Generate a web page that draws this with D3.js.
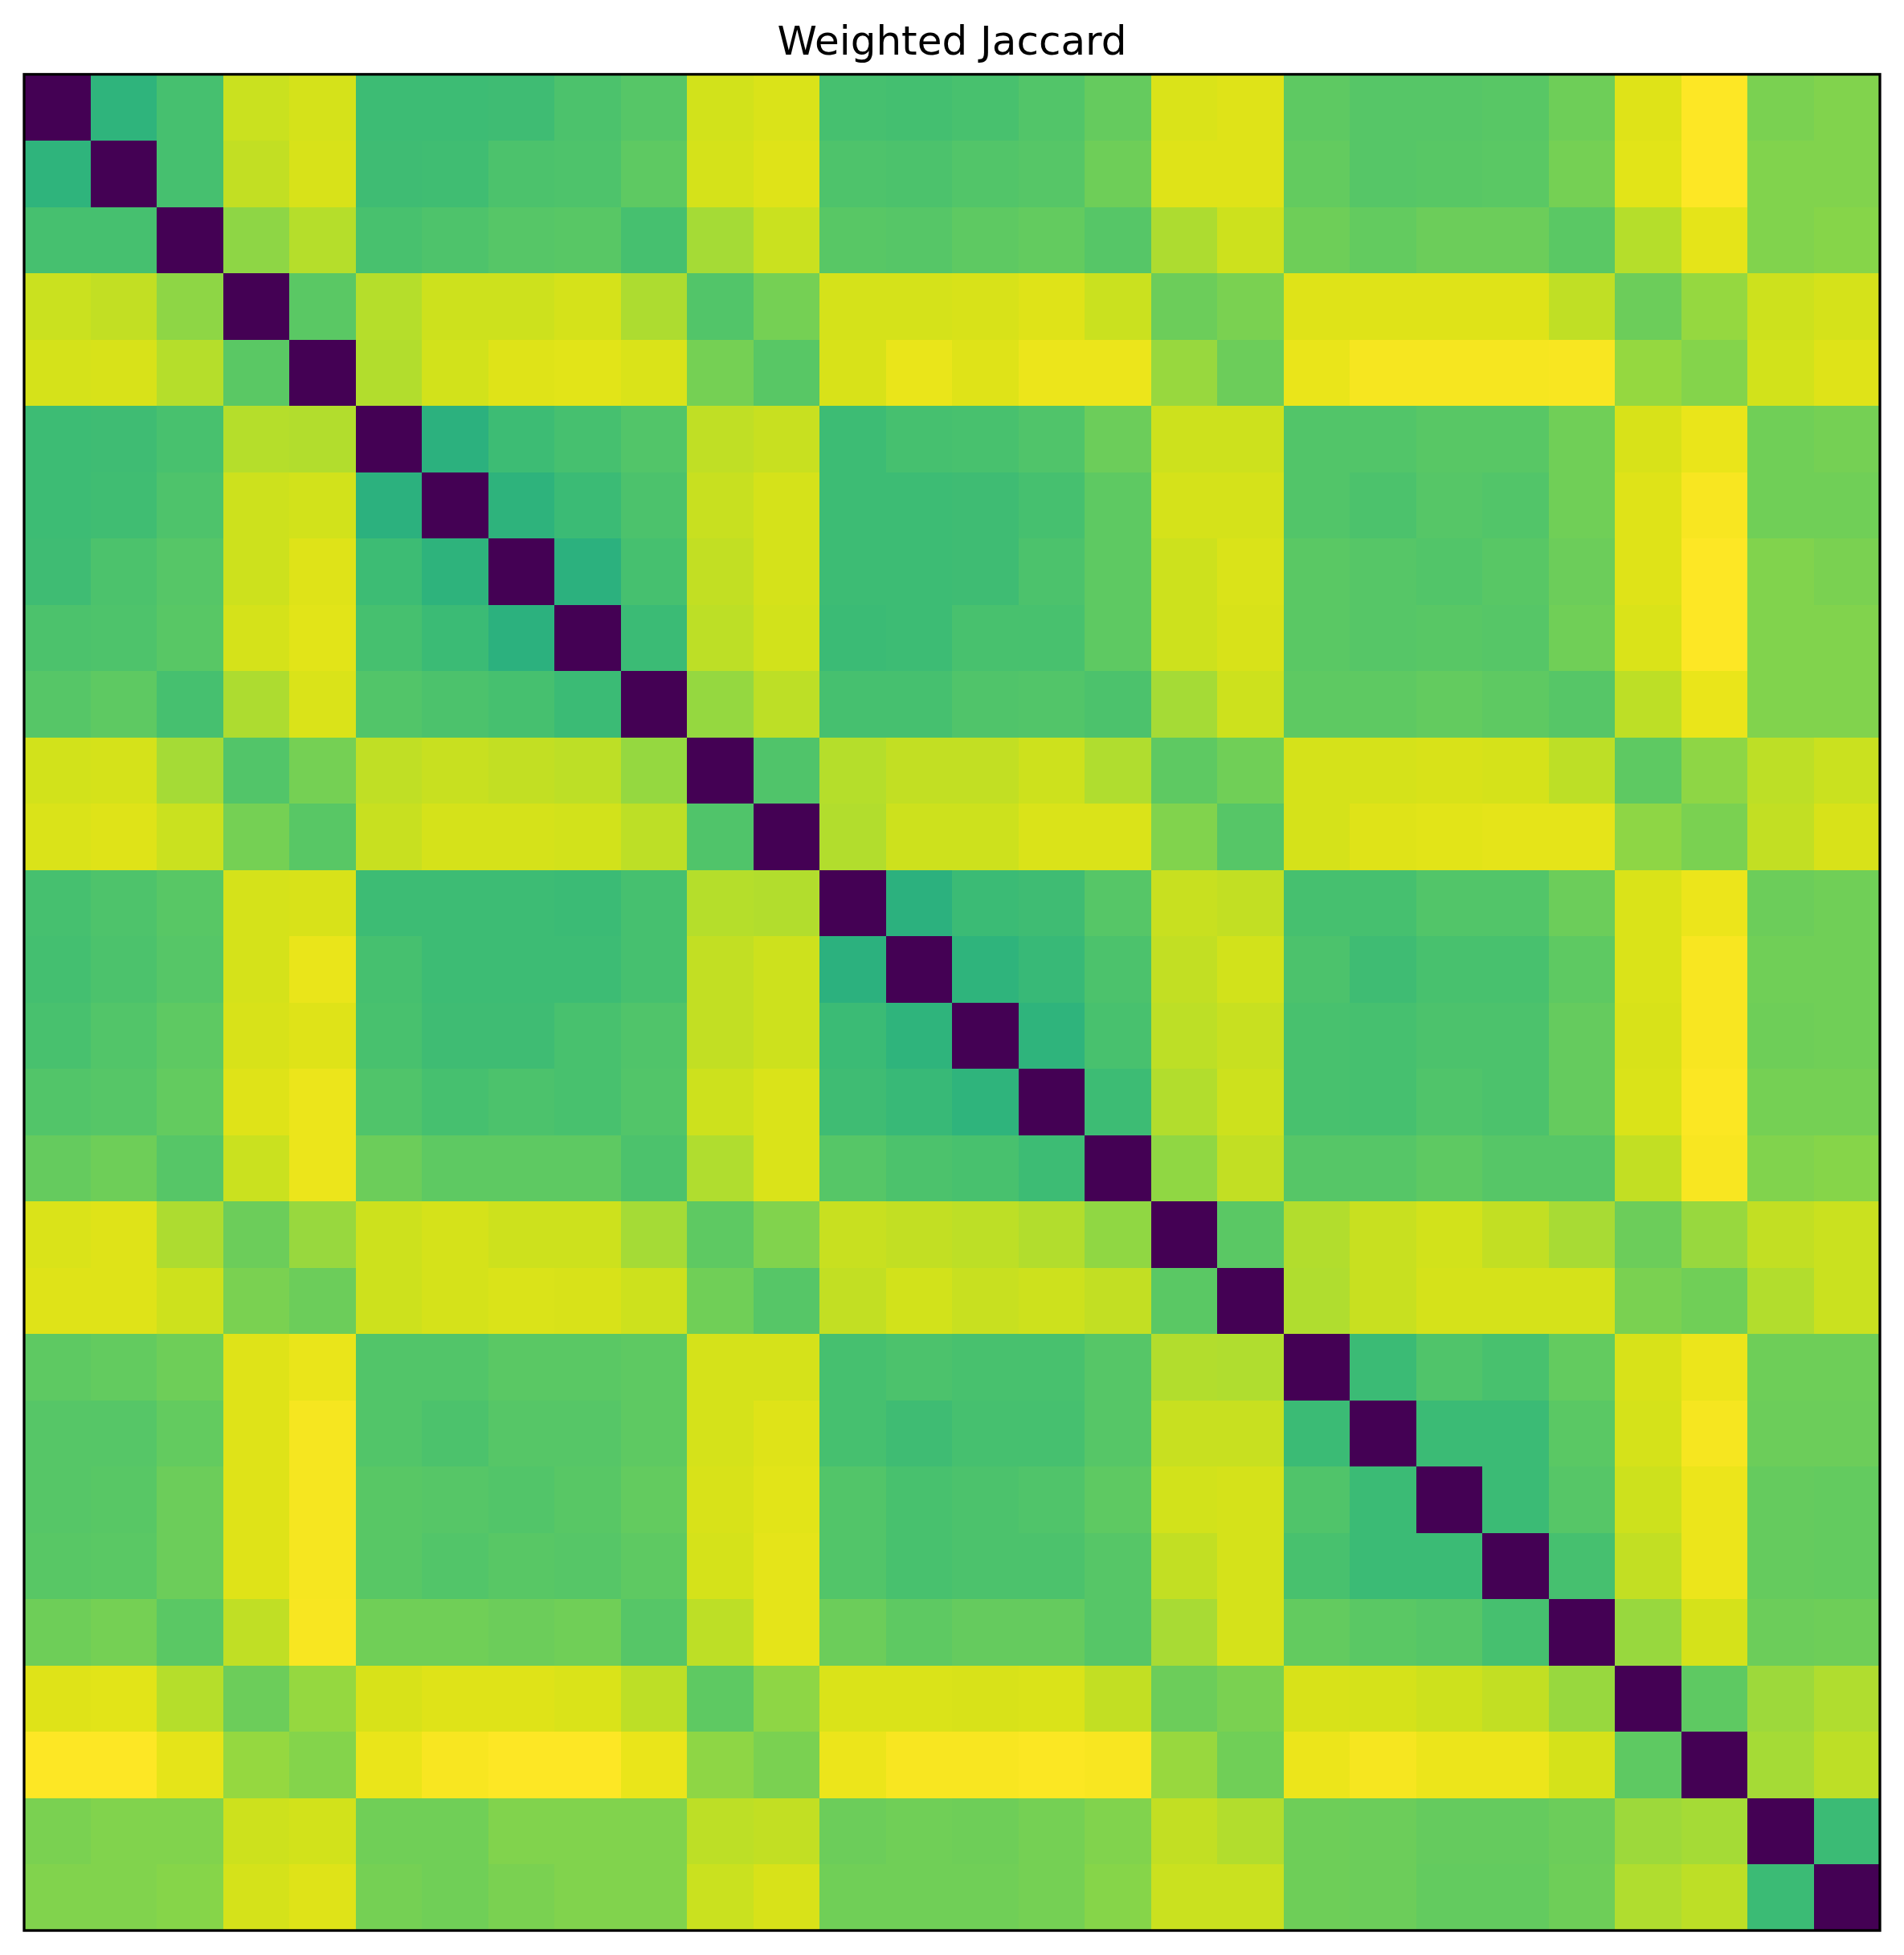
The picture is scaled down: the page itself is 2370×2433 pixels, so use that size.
<!DOCTYPE html>
<html>
<head>
<meta charset="utf-8">
<script src="https://cdn.jsdelivr.net/npm/d3@7"></script>
<style>
  html, body { margin: 0; padding: 0; background: #fff; }
  svg { display: block; }
</style>
</head>
<body>
<svg id="chart"></svg>
<script>
const title = 'Weighted Jaccard';

// 28 samples, no tick labels shown on the chart
const samples = d3.range(28);

// pairwise weighted Jaccard distances (symmetric, zero diagonal)
const distances = [
  [0, .65, .705, .92, .935, .685, .685, .69, .715, .735, .93, .945, .705, .70, .71, .73, .765, .945, .95, .75, .735, .735, .74, .78, .95, 1.0, .80, .81],
  [.65, 0, .705, .91, .94, .69, .695, .715, .72, .75, .935, .95, .72, .715, .73, .735, .78, .95, .95, .76, .735, .74, .745, .79, .955, 1.0, .81, .81],
  [.705, .705, 0, .83, .89, .71, .72, .735, .74, .705, .865, .92, .74, .735, .75, .76, .735, .875, .925, .78, .76, .775, .775, .745, .89, .96, .81, .82],
  [.92, .91, .83, 0, .745, .89, .925, .925, .935, .875, .73, .79, .935, .935, .94, .95, .92, .775, .80, .95, .95, .95, .95, .905, .775, .84, .925, .935],
  [.935, .94, .89, .745, 0, .885, .93, .95, .955, .945, .79, .74, .94, .965, .952, .97, .97, .845, .775, .965, .985, .985, .985, .99, .84, .815, .93, .95],
  [.685, .69, .71, .89, .885, 0, .64, .685, .705, .73, .905, .915, .685, .705, .71, .725, .775, .925, .925, .73, .73, .74, .74, .785, .94, .965, .785, .79],
  [.685, .695, .72, .925, .93, .64, 0, .645, .68, .715, .915, .935, .685, .685, .69, .705, .75, .935, .935, .73, .715, .735, .73, .785, .95, .99, .785, .785],
  [.69, .715, .735, .925, .95, .685, .645, 0, .64, .705, .91, .935, .685, .685, .69, .715, .75, .925, .945, .745, .735, .73, .74, .775, .95, 1.0, .81, .80],
  [.715, .72, .74, .935, .955, .705, .68, .64, 0, .68, .90, .93, .68, .685, .71, .71, .75, .925, .94, .745, .735, .74, .735, .785, .945, 1.0, .81, .81],
  [.735, .75, .705, .875, .945, .73, .715, .705, .68, 0, .84, .90, .705, .705, .725, .73, .715, .865, .925, .75, .75, .76, .75, .735, .90, .965, .81, .81],
  [.93, .935, .865, .73, .79, .905, .915, .91, .90, .84, 0, .725, .89, .91, .91, .925, .88, .75, .785, .935, .935, .94, .935, .90, .75, .83, .90, .92],
  [.945, .95, .92, .79, .74, .915, .935, .935, .93, .90, .725, 0, .885, .925, .925, .945, .945, .81, .735, .935, .95, .955, .96, .96, .83, .80, .91, .94],
  [.705, .72, .74, .935, .94, .685, .685, .685, .68, .705, .89, .885, 0, .64, .68, .69, .735, .915, .91, .705, .705, .73, .73, .775, .945, .97, .775, .785],
  [.70, .715, .735, .935, .965, .705, .685, .685, .685, .705, .91, .925, .64, 0, .65, .675, .715, .91, .93, .715, .69, .71, .71, .75, .945, .99, .785, .785],
  [.71, .73, .75, .94, .952, .71, .69, .69, .71, .725, .91, .925, .68, .65, 0, .65, .71, .90, .915, .71, .705, .715, .715, .765, .94, .99, .78, .785],
  [.73, .735, .76, .95, .97, .725, .705, .715, .71, .73, .925, .945, .69, .675, .65, 0, .685, .885, .925, .71, .705, .725, .715, .765, .945, .995, .79, .79],
  [.765, .78, .735, .92, .97, .775, .75, .75, .75, .715, .88, .945, .735, .715, .71, .685, 0, .835, .91, .735, .735, .75, .735, .735, .91, .99, .81, .82],
  [.945, .95, .875, .775, .845, .925, .935, .925, .925, .865, .75, .81, .915, .91, .90, .885, .835, 0, .745, .885, .915, .93, .91, .87, .775, .845, .91, .92],
  [.95, .95, .925, .80, .775, .925, .935, .945, .94, .925, .785, .735, .91, .93, .915, .925, .91, .745, 0, .88, .915, .935, .935, .935, .80, .785, .885, .92],
  [.75, .76, .78, .95, .965, .73, .73, .745, .745, .75, .935, .935, .705, .715, .71, .71, .735, .885, .88, 0, .68, .725, .71, .76, .94, .97, .78, .78],
  [.735, .735, .76, .95, .985, .73, .715, .735, .735, .75, .935, .95, .705, .69, .705, .705, .735, .915, .915, .68, 0, .68, .68, .745, .935, .985, .775, .775],
  [.735, .74, .775, .95, .985, .74, .735, .73, .74, .76, .94, .955, .73, .71, .715, .725, .75, .93, .935, .725, .68, 0, .68, .735, .925, .97, .765, .76],
  [.74, .745, .775, .95, .985, .74, .73, .74, .735, .75, .935, .96, .73, .71, .715, .715, .735, .91, .935, .71, .68, .68, 0, .705, .91, .97, .765, .76],
  [.78, .79, .745, .905, .99, .785, .785, .775, .785, .735, .90, .96, .775, .75, .765, .765, .735, .87, .935, .76, .745, .735, .705, 0, .845, .935, .775, .78],
  [.95, .955, .89, .775, .84, .94, .95, .95, .945, .90, .75, .83, .945, .945, .94, .945, .91, .775, .80, .94, .935, .925, .91, .845, 0, .75, .855, .88],
  [1.0, 1.0, .96, .84, .815, .965, .99, 1.0, 1.0, .965, .83, .80, .97, .99, .99, .995, .99, .845, .785, .97, .985, .97, .97, .935, .75, 0, .865, .90],
  [.80, .81, .81, .925, .93, .785, .785, .81, .81, .81, .90, .91, .775, .785, .78, .79, .81, .91, .885, .78, .775, .765, .765, .775, .855, .865, 0, .68],
  [.81, .81, .82, .935, .95, .79, .785, .80, .81, .81, .92, .94, .785, .785, .785, .79, .82, .92, .92, .78, .775, .76, .76, .78, .88, .90, .68, 0],
];

const width = 2370;
const height = 2433;
const margin = { top: 92.5, left: 30, right: 30, bottom: 30.5 };
const plotSize = width - margin.left - margin.right;

const svg = d3.select('#chart')
  .attr('width', width)
  .attr('height', height);

svg.append('rect')
  .attr('width', width)
  .attr('height', height)
  .attr('fill', '#fff');

const xScale = d3.scaleBand()
  .domain(samples)
  .range([margin.left, margin.left + plotSize]);

const yScale = d3.scaleBand()
  .domain(samples)
  .range([margin.top, margin.top + plotSize]);

const color = d3.scaleSequential(d3.interpolateViridis)
  .domain([0, d3.max(distances.flat())]);

const cells = [];
distances.forEach((row, i) => {
  row.forEach((value, j) => cells.push({ row: i, col: j, value }));
});

svg.append('g')
  .selectAll('rect')
  .data(cells)
  .enter()
  .append('rect')
  .attr('x', (d) => xScale(d.col))
  .attr('y', (d) => yScale(d.row))
  .attr('width', xScale.bandwidth() + 0.5)
  .attr('height', yScale.bandwidth() + 0.5)
  .attr('fill', (d) => color(d.value))
  .attr('shape-rendering', 'crispEdges');

// frame
svg.append('rect')
  .attr('x', margin.left)
  .attr('y', margin.top)
  .attr('width', plotSize)
  .attr('height', plotSize)
  .attr('fill', 'none')
  .attr('stroke', '#000')
  .attr('stroke-width', 3.3);

svg.append('text')
  .attr('x', margin.left + plotSize / 2)
  .attr('y', 68)
  .attr('text-anchor', 'middle')
  .attr('font-family', 'DejaVu Sans, sans-serif')
  .attr('font-size', 50)
  .attr('fill', '#000')
  .text(title);
</script>
</body>
</html>
